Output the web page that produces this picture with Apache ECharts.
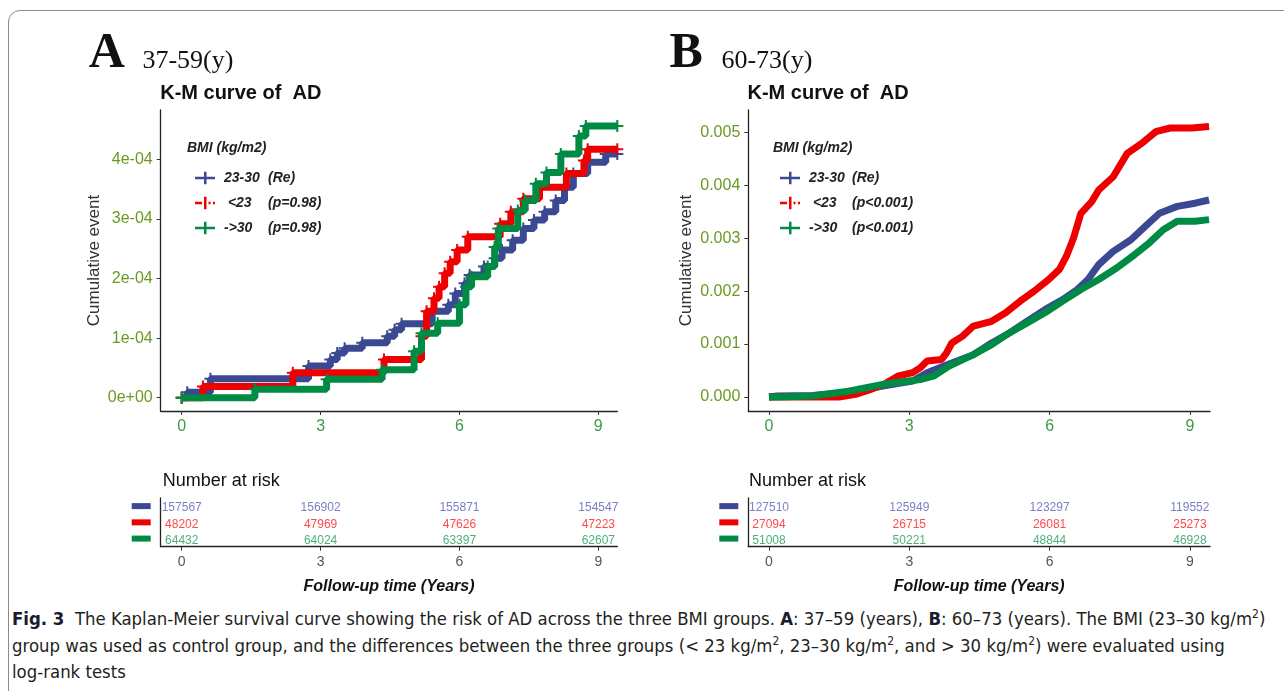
<!DOCTYPE html>
<html>
<head>
<meta charset="utf-8">
<title>K-M curve of AD by BMI</title>
<script src="https://cdn.jsdelivr.net/npm/echarts@6/dist/echarts.min.js"></script>
<style>
  html, body { margin: 0; padding: 0; background: #fff; }
  #frame {
    position: absolute; left: 8px; top: 10px; width: 1300px; height: 700px;
    border: 1px solid #8a8a8a; border-radius: 12px; box-sizing: border-box;
  }
  #chart { position: absolute; left: 0; top: 0; width: 1284px; height: 600px; }
  #caption {
    position: absolute; left: 12px; top: 606px;
    font-family: "Liberation Sans Narrow", "DejaVu Sans Condensed", sans-serif;
    font-stretch: condensed;
    font-size: 18.4px; line-height: 26.5px; color: #231f20; white-space: nowrap;
  }
  #caption b { color: #1b1b2e; }
  #caption sup { font-size: 12px; line-height: 0; vertical-align: 7px; }
</style>
</head>
<body>
<div id="frame"></div>
<div id="chart"></div>
<div id="caption">
  <b>Fig. 3</b>&nbsp; The Kaplan-Meier survival curve showing the risk of AD across the three BMI groups. <b>A</b>: 37–59 (years), <b>B</b>: 60–73 (years). The BMI (23–30 kg/m<sup>2</sup>)<br>
  group was used as control group, and the differences between the three groups (&lt; 23 kg/m<sup>2</sup>, 23–30 kg/m<sup>2</sup>, and &gt; 30 kg/m<sup>2</sup>) were evaluated using<br>
  log-rank tests
</div>
<script>
// panel A (37-59 y): cumulative event, values in units of 1e-4
const blueA_t = [0, 0.12, 0.62, 2.74, 3.21, 3.36, 3.52, 3.90, 4.44, 4.60, 4.75, 5.41, 5.76, 5.91, 6.11, 6.22, 6.53, 6.76, 6.92, 7.15, 7.38, 7.61, 7.84, 8.08, 8.27, 8.46, 8.77, 9.16, 9.41]
const blueA_v = [0, 0.09, 0.32, 0.53, 0.64, 0.75, 0.83, 0.92, 1.03, 1.14, 1.24, 1.45, 1.56, 1.75, 1.92, 2.06, 2.20, 2.34, 2.48, 2.64, 2.84, 2.98, 3.12, 3.31, 3.53, 3.76, 3.95, 4.09, 4.09]
const redA_t = [0, 0.46, 2.40, 4.37, 5.18, 5.29, 5.45, 5.56, 5.68, 5.80, 5.95, 6.18, 6.88, 7.11, 7.38, 7.73, 8.31, 8.69, 8.77, 9.41]
const redA_v = [0, 0.19, 0.42, 0.64, 1.03, 1.45, 1.67, 1.86, 2.09, 2.28, 2.48, 2.70, 2.92, 3.12, 3.34, 3.53, 3.76, 3.98, 4.17, 4.17]
const greenA_t = [0, 1.58, 3.13, 4.33, 5.02, 5.18, 5.53, 6.00, 6.14, 6.26, 6.61, 6.76, 6.84, 7.26, 7.42, 7.65, 7.88, 8.19, 8.58, 8.73, 9.41]
const greenA_v = [0, 0.14, 0.31, 0.47, 0.78, 1.08, 1.25, 1.56, 1.86, 2.03, 2.20, 2.53, 2.84, 3.14, 3.31, 3.59, 3.78, 4.09, 4.39, 4.56, 4.56]

// panel B (60-73 y): cumulative event, values in units of 1e-3
const blueB_t = [0, 0.17, 0.93, 1.70, 2.46, 3.07, 3.38, 3.84, 4.37, 4.76, 5.14, 5.52, 5.90, 6.28, 6.59, 6.82, 7.05, 7.36, 7.74, 7.97, 8.35, 8.73, 9.11, 9.41]
const blueB_v = [0, 0.02, 0.03, 0.09, 0.21, 0.30, 0.46, 0.62, 0.80, 1.02, 1.21, 1.43, 1.65, 1.84, 2.03, 2.22, 2.50, 2.75, 2.97, 3.16, 3.47, 3.60, 3.66, 3.72]
const redB_t = [0, 0.60, 1.50, 1.85, 2.16, 2.46, 2.77, 3.07, 3.23, 3.38, 3.69, 3.80, 3.91, 4.14, 4.37, 4.76, 5.06, 5.37, 5.67, 5.98, 6.21, 6.36, 6.51, 6.67, 6.90, 7.05, 7.36, 7.66, 7.97, 8.27, 8.58, 9.04, 9.41]
const redB_v = [0, 0, 0, 0.05, 0.14, 0.24, 0.40, 0.46, 0.55, 0.68, 0.71, 0.84, 1.02, 1.15, 1.34, 1.43, 1.59, 1.81, 2.00, 2.22, 2.41, 2.66, 3.00, 3.47, 3.69, 3.91, 4.16, 4.60, 4.79, 5.01, 5.08, 5.08, 5.11]
const greenB_t = [0, 0.17, 0.93, 1.70, 2.46, 3.23, 3.53, 3.84, 4.37, 4.76, 5.14, 5.52, 5.90, 6.28, 6.67, 7.05, 7.44, 7.82, 8.13, 8.43, 8.73, 9.11, 9.41]
const greenB_v = [0, 0, 0.02, 0.11, 0.24, 0.33, 0.40, 0.58, 0.80, 0.99, 1.21, 1.40, 1.59, 1.81, 2.03, 2.22, 2.44, 2.69, 2.91, 3.16, 3.32, 3.32, 3.35]

// number at risk
const riskTimes = [0, 3, 6, 9]
const riskA_blue = [157567, 156902, 155871, 154547]
const riskA_red = [48202, 47969, 47626, 47223]
const riskA_green = [64432, 64024, 63397, 62607]
const riskB_blue = [127510, 125949, 123297, 119552]
const riskB_red = [27094, 26715, 26081, 25273]
const riskB_green = [51008, 50221, 48844, 46928]

const xTicks = [0, 3, 6, 9]
const yTicksA = [0, 1e-4, 2e-4, 3e-4, 4e-4]
const yTicksB = [0, 0.001, 0.002, 0.003, 0.004, 0.005]
const groups = ['23-30', '<23', '->30']
const pValuesA = ['(Re)', '(p=0.98)', '(p=0.98)']
const pValuesB = ['(Re)', '(p<0.001)', '(p<0.001)']
const rowKeys = ['a', 'b', 'c']

const COLORS = ['#3B4992', '#EE0000', '#008B45']
const RISK_TEXT = ['#5a60b4', '#ff1a1a', '#1f9c5a']
const Y_LABEL = '#6a9a22'
const X_LABEL = '#3c9a48'
const FONT = '"Liberation Sans", Arial, sans-serif'
const SERIF = '"Liberation Serif", "Times New Roman", serif'

const PLUS = 'path://M0,5 L12,5 L12,7 L0,7 Z M5,0 L7,0 L7,12 L5,12 Z'
const ICONS = [
  'path://M0,5 L20,5 L20,7.5 L0,7.5 Z M9,0 L11.5,0 L11.5,12.5 L9,12.5 Z',
  'path://M0,5 L7,5 L7,7.5 L0,7.5 Z M9,0 L11.5,0 L11.5,12.5 L9,12.5 Z M13.5,5 L15.5,5 L15.5,7.5 L13.5,7.5 Z M18,5 L20,5 L20,7.5 L18,7.5 Z',
  'path://M0,5 L20,5 L20,7.5 L0,7.5 Z M9,0 L11.5,0 L11.5,12.5 L9,12.5 Z'
]

const pairs = (t, v, scale) => t.map((x, i) => [x, v[i] * scale])

const panels = [
  {
    key: 'A', letter: 'A', age: '37-59(y)', left: 160.7, width: 456.6,
    xMin: -0.454, xMax: 9.41, yMin: -0.223e-4, yMax: 4.827e-4, yTicks: yTicksA,
    fmt: v => v === 0 ? '0e+00' : Math.round(v * 1e4) + 'e-04', nameGap: 58,
    curves: [pairs(blueA_t, blueA_v, 1e-4), pairs(redA_t, redA_v, 1e-4), pairs(greenA_t, greenA_v, 1e-4)],
    risk: [riskA_blue, riskA_red, riskA_green], pv: pValuesA, step: true,
    letterX: 88.7, ageX: 142.4, titleX: 160.2, legendX: 190, bmiX: 187, riskTitleX: 162.8, colA: 44
  },
  {
    key: 'B', letter: 'B', age: '60-73(y)', left: 748.3, width: 461.7,
    xMin: -0.443, xMax: 9.43, yMin: -0.000264, yMax: 0.00542, yTicks: yTicksB,
    fmt: v => v.toFixed(3), nameGap: 53,
    curves: [pairs(blueB_t, blueB_v, 1e-3), pairs(redB_t, redB_v, 1e-3), pairs(greenB_t, greenB_v, 1e-3)],
    risk: [riskB_blue, riskB_red, riskB_green], pv: pValuesB, step: false,
    letterX: 669.6, ageX: 721.4, titleX: 747.5, legendX: 775, bmiX: 773, riskTitleX: 749, colA: 43
  }
]

const grid = [], xAxis = [], yAxis = [], series = [], legend = [], graphic = []
const axisLine = { show: true, onZero: false, lineStyle: { color: '#222', width: 1.3 } }

panels.forEach((p, pi) => {
  const gMain = pi * 2, gRisk = pi * 2 + 1
  grid.push({ left: p.left, top: 110, width: p.width, height: 301 })
  grid.push({ left: p.left, top: 498, width: p.width, height: 48.7 })

  xAxis.push({
    type: 'value', gridIndex: gMain, min: p.xMin, max: p.xMax, axisLine,
    axisTick: { show: true, customValues: xTicks, length: 4, lineStyle: { color: '#333' } },
    axisLabel: { customValues: xTicks, color: X_LABEL, fontSize: 16, fontFamily: FONT, margin: 8 },
    splitLine: { show: false }
  })
  xAxis.push({
    type: 'value', gridIndex: gRisk, min: p.xMin, max: p.xMax, axisLine,
    axisTick: { show: true, customValues: xTicks, length: 4, lineStyle: { color: '#333' } },
    axisLabel: { customValues: xTicks, color: '#555', fontSize: 14, fontFamily: FONT, margin: 8 },
    splitLine: { show: false }
  })
  yAxis.push({
    type: 'value', gridIndex: gMain, min: p.yMin, max: p.yMax,
    name: 'Cumulative event', nameLocation: 'middle', nameGap: p.nameGap,
    nameTextStyle: { fontSize: 17, color: '#333', fontFamily: FONT },
    axisLine,
    axisTick: { show: true, customValues: p.yTicks, length: 4, lineStyle: { color: '#333' } },
    axisLabel: { customValues: p.yTicks, formatter: p.fmt, color: Y_LABEL, fontSize: 16, fontFamily: FONT, margin: 8 },
    splitLine: { show: false }
  })
  const swatches = {}
  rowKeys.forEach((k, i) => { swatches[k] = { width: 19, height: 6, backgroundColor: COLORS[i] } })
  yAxis.push({
    type: 'category', gridIndex: gRisk, data: rowKeys, inverse: true, axisLine,
    axisTick: { show: false },
    axisLabel: { margin: 10, formatter: v => '{' + v + '|}', rich: swatches }
  })

  const names = groups.map(g => p.key + ' ' + g)
  p.curves.forEach((data, i) => {
    series.push({
      name: names[i], type: 'line', xAxisIndex: gMain, yAxisIndex: gMain,
      data, step: p.step ? 'end' : false, color: COLORS[i],
      symbol: p.step ? PLUS : 'none', symbolSize: 12, showAllSymbol: true,
      lineStyle: { width: 7, color: COLORS[i] },
      itemStyle: { color: COLORS[i] }, z: 2 + i, silent: true
    })
  })
  p.risk.forEach((vals, i) => {
    series.push({
      type: 'scatter', xAxisIndex: gRisk, yAxisIndex: gRisk, symbolSize: 0, silent: true,
      data: riskTimes.map((t, j) => [t, rowKeys[i], vals[j]]),
      label: {
        show: true, position: 'inside', offset: [0, 2], formatter: q => q.value[2],
        color: RISK_TEXT[i], fontSize: 12, fontFamily: FONT
      }
    })
  })

  const txt = { fontFamily: FONT, fontSize: 14, fontWeight: 'bold', fontStyle: 'italic', color: '#222' }
  legend.push({
    data: names.map((n, i) => ({ name: n, icon: ICONS[i] })),
    orient: 'vertical', left: p.legendX, top: 166, itemWidth: 20, itemHeight: 13, itemGap: 11,
    selectedMode: false,
    formatter: n => {
      const i = names.indexOf(n)
      const g = groups[i] === '<23' ? ' <23' : groups[i]
      return '{a|' + g + '}{b|' + p.pv[i] + '}'
    },
    textStyle: Object.assign({}, txt, {
      rich: { a: Object.assign({}, txt, { width: p.colA, padding: [0, 0, 0, 4] }), b: Object.assign({}, txt) }
    })
  })

  graphic.push(
    { type: 'text', x: p.letterX, y: 54, style: { text: p.letter, font: 'bold 50px ' + SERIF, fill: '#111', align: 'left', verticalAlign: 'middle' } },
    { type: 'text', x: p.ageX, y: 61, style: { text: p.age, font: '26px ' + SERIF, fill: '#111', align: 'left', verticalAlign: 'middle' } },
    { type: 'text', x: p.titleX, y: 93, style: { text: 'K-M curve of  AD', font: 'bold 20px ' + FONT, fill: '#111', align: 'left', verticalAlign: 'middle' } },
    { type: 'text', x: p.bmiX, y: 148, style: { text: 'BMI (kg/m2)', font: 'italic bold 14px ' + FONT, fill: '#222', align: 'left', verticalAlign: 'middle' } },
    { type: 'text', x: p.riskTitleX, y: 481, style: { text: 'Number at risk', font: '18px ' + FONT, fill: '#111', align: 'left', verticalAlign: 'middle' } },
    { type: 'text', x: p.left + p.width / 2, y: 587, style: { text: 'Follow-up time (Years)', font: 'italic bold 16px ' + FONT, fill: '#111', align: 'center', verticalAlign: 'middle' } }
  )
})

const chart = echarts.init(document.getElementById('chart'))
chart.setOption({
  animation: false,
  grid, xAxis, yAxis, series, legend, graphic
})
</script>
</body>
</html>
